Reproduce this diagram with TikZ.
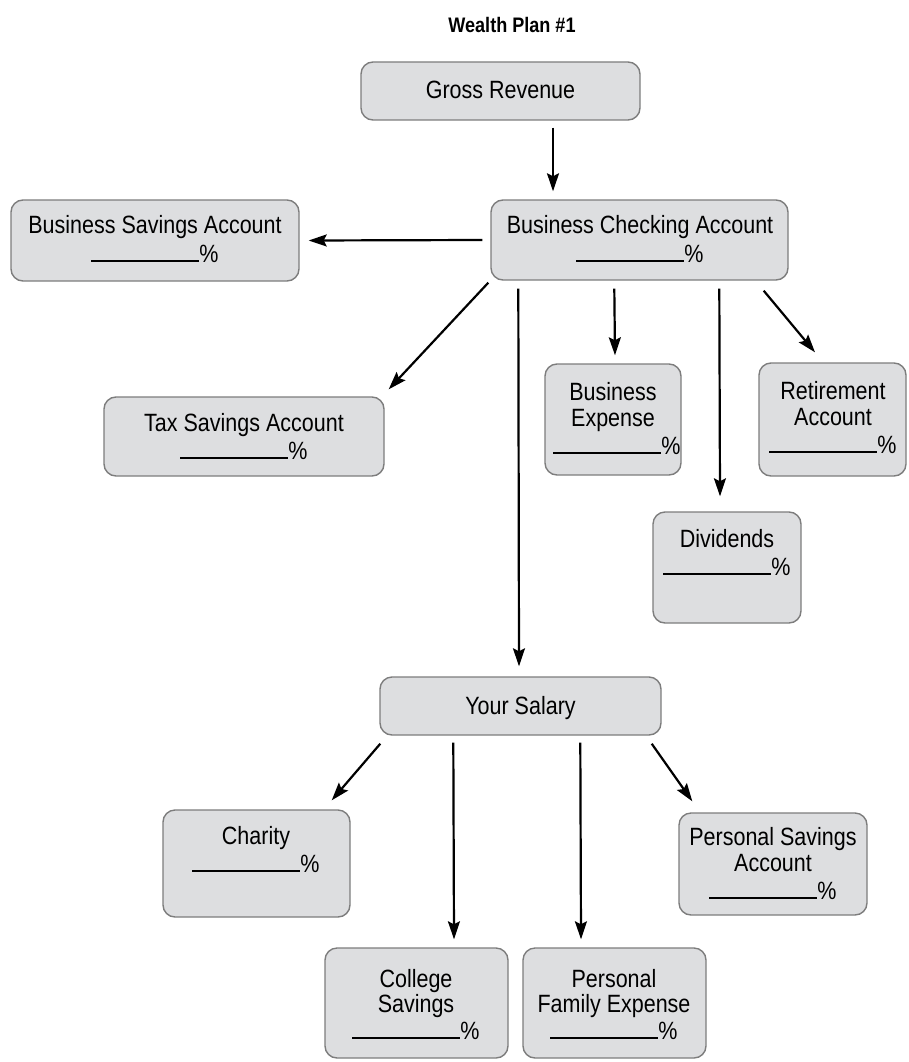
\documentclass[tikz,border=0pt]{standalone}
\usepackage{fontspec}
\setmainfont{Liberation Sans}[FakeStretch=0.86]
\usetikzlibrary{arrows.meta}
\definecolor{boxfill}{RGB}{221,222,224}
\definecolor{boxline}{RGB}{125,125,125}
\newcommand\blankpct{\rule{108pt}{1.8pt}\%}
\tikzset{
  box/.style={draw=boxline, fill=boxfill, line width=1.4pt, rounded corners=12pt, inner sep=0pt},
  txt/.style={inner sep=0pt, anchor=base, font=\fontsize{25}{28}\selectfont},
  ttl/.style={inner sep=0pt, anchor=base, font=\fontsize{21}{24}\selectfont\bfseries},
  arr/.style={line width=2.2pt, -{Stealth[length=18pt,width=12pt,inset=3pt]}},
}
\begin{document}
\begin{tikzpicture}[x=1pt,y=-1pt]
\useasboundingbox (0,0) rectangle (908,1062);
% boxes
\node[box, minimum width=279pt, minimum height=58pt] (gr) at (500.5,91) {};
\node[box, minimum width=297pt, minimum height=80pt] (bca) at (639.5,240) {};
\node[box, minimum width=288pt, minimum height=81pt] (bsa) at (155,240.5) {};
\node[box, minimum width=280pt, minimum height=79pt] (tax) at (244,436.5) {};
\node[box, minimum width=136pt, minimum height=111pt] (bex) at (613,419.5) {};
\node[box, minimum width=147pt, minimum height=113pt] (ret) at (832.5,419.5) {};
\node[box, minimum width=148pt, minimum height=111pt] (div) at (727,567.5) {};
\node[box, minimum width=281pt, minimum height=58pt] (sal) at (520.5,706) {};
\node[box, minimum width=187pt, minimum height=107pt] (cha) at (256.5,863.5) {};
\node[box, minimum width=188pt, minimum height=102pt] (psa) at (773,864) {};
\node[box, minimum width=183pt, minimum height=110pt] (col) at (416.5,1003) {};
\node[box, minimum width=183pt, minimum height=110pt] (pfe) at (614.5,1003) {};
% texts
\node[ttl] (title) at (512,33) {Wealth Plan \#1};
\node[txt] (gr-1) at (500.5,99) {Gross Revenue};
\node[txt] (bca-1) at (640,233) {Business Checking Account};
\node[txt] (bca-2) at (640,262) {\blankpct};
\node[txt] (bsa-1) at (155,233) {Business Savings Account};
\node[txt] (bsa-2) at (155,262) {\blankpct};
\node[txt] (tax-1) at (244,431) {Tax Savings Account};
\node[txt] (tax-2) at (244,459) {\blankpct};
\node[txt] (bex-1) at (613,400) {Business};
\node[txt] (bex-2) at (613,426) {Expense};
\node[txt] (bex-3) at (617,454) {\blankpct};
\node[txt] (ret-1) at (833,399) {Retirement};
\node[txt] (ret-2) at (833,425) {Account};
\node[txt] (ret-3) at (833,453) {\blankpct};
\node[txt] (div-1) at (727,547) {Dividends};
\node[txt] (div-2) at (727,575) {\blankpct};
\node[txt] (sal-1) at (520.5,714) {Your Salary};
\node[txt] (cha-1) at (256,844) {Charity};
\node[txt] (cha-2) at (256,872) {\blankpct};
\node[txt] (psa-1) at (773,845) {Personal Savings};
\node[txt] (psa-2) at (773,871) {Account};
\node[txt] (psa-3) at (773,899) {\blankpct};
\node[txt] (col-1) at (416,987) {College};
\node[txt] (col-2) at (416,1012) {Savings};
\node[txt] (col-3) at (416,1039) {\blankpct};
\node[txt] (pfe-1) at (614,987) {Personal};
\node[txt] (pfe-2) at (614,1012) {Family Expense};
\node[txt] (pfe-3) at (614,1039) {\blankpct};
% arrows
\draw[arr] ([xshift=52.5pt,yshift=-7pt]gr.south) -- ([xshift=-86.5pt,yshift=8pt]bca.north);
\draw[arr] ([xshift=-8pt]bca.west) -- ([xshift=9pt]bsa.east);
\draw[arr] ([xshift=-2pt,yshift=-2pt]bca.south west) -- ([xshift=4pt,yshift=7pt]tax.north east);
\draw[arr] ([xshift=28pt,yshift=-8pt]bca.south west) -- ([xshift=-1.5pt,yshift=10pt]sal.north);
\draw[arr] ([xshift=124pt,yshift=-8pt]bca.south west) -- ([xshift=2pt,yshift=8pt]bex.north);
\draw[arr] ([xshift=229pt,yshift=-8pt]bca.south west) -- ([xshift=-7pt,yshift=15pt]div.north);
\draw[arr] ([xshift=-25pt,yshift=-10pt]bca.south east) -- ([xshift=-17.5pt,yshift=10pt]ret.north);
\draw[arr] ([xshift=1pt,yshift=-8pt]sal.south west) -- ([xshift=-19pt,yshift=9pt]cha.north east);
\draw[arr] ([xshift=74pt,yshift=-7pt]sal.south west) -- ([xshift=37.5pt,yshift=8pt]col.north);
\draw[arr] ([xshift=201pt,yshift=-7pt]sal.south west) -- ([xshift=-33.5pt,yshift=8pt]pfe.north);
\draw[arr] ([xshift=-10pt,yshift=-8pt]sal.south east) -- ([xshift=14pt,yshift=11pt]psa.north west);
\end{tikzpicture}
\end{document}
